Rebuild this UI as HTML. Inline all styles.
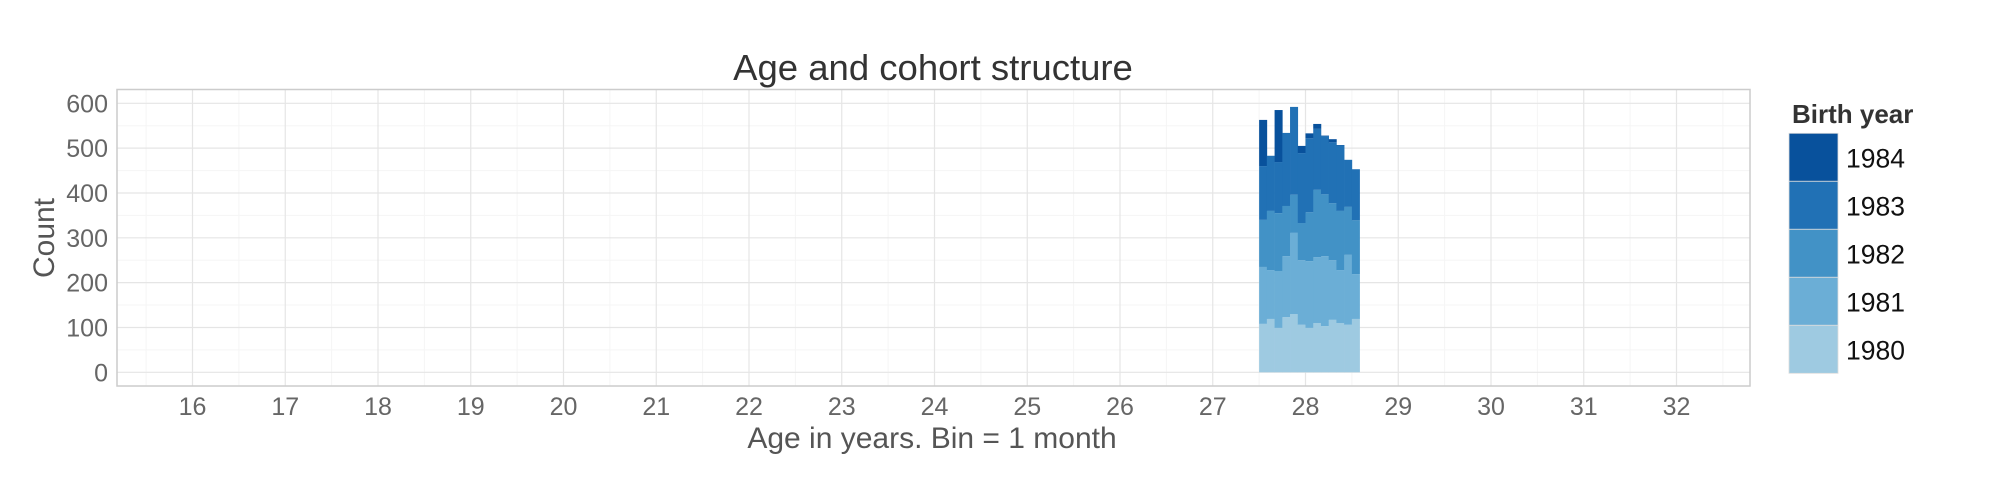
<!DOCTYPE html>
<html><head><meta charset="utf-8"><style>
body{margin:0;background:#fff;}
svg{display:block;font-family:"Liberation Sans",Arial,sans-serif;}
</style></head><body>
<svg id="chart" width="2000" height="480" xmlns="http://www.w3.org/2000/svg">
<text x="933" y="80" text-anchor="middle" font-size="36.5" fill="#333">Age and cohort structure</text>
<rect x="117" y="89.5" width="1633" height="296.5" fill="#fff"/>
<g id="grid"></g>
<g id="bars"></g>
<rect x="117" y="89.5" width="1633" height="296.5" fill="none" stroke="#ccc" stroke-width="1.5"/>
<g id="yticks"></g>
<g id="xticks"></g>
<text x="932" y="448" text-anchor="middle" font-size="30" fill="#555">Age in years. Bin = 1 month</text>
<text transform="translate(54,238) rotate(-90)" text-anchor="middle" font-size="30" fill="#555">Count</text>
<g id="legend">
<text x="1792" y="123" font-size="26" font-weight="bold" fill="#333">Birth year</text>
</g>
</svg>
<script>
const cohorts = ["1980","1981","1982","1983","1984"];
const binStart = 27.5;
const binWidth = 1/12;
const c1980 = [108,119,99,123,130,106,99,110,103,117,110,106,119];
const c1981 = [127,109,127,136,181,144,149,147,156,133,118,156,100];
const c1982 = [105,132,129,112,85,83,109,150,138,127,132,107,120];
const c1983 = [120,123,114,163,196,156,165,136,130,136,146,105,114];
const c1984 = [103,0,116,0,0,16,11,11,1,7,1,0,0];
const colors = ["#9ecae1","#6baed6","#4292c6","#2171b5","#08519c"];
const yTicks = [0,100,200,300,400,500,600];
const xTicks = [16,17,18,19,20,21,22,23,24,25,26,27,28,29,30,31,32];

const NS="http://www.w3.org/2000/svg";
const X0=117,X1=1750,Y0=89.5,Y1=386;
const xs = v => 192.5 + (v-16)*92.75;
const ys = v => 372.3 - v*0.4483;
function mk(tag,attrs,parent){const e=document.createElementNS(NS,tag);for(const k in attrs)e.setAttribute(k,attrs[k]);parent.appendChild(e);return e;}
const grid=document.getElementById('grid');
for(let v=15.5;v<=32.5;v+=1){const l=mk('line',{x1:xs(v),x2:xs(v),y1:Y0,y2:Y1,stroke:'#f5f5f5','stroke-width':1},grid);

}
for(let v=50;v<=650;v+=100){const y=ys(v);if(y<Y0)continue;const l=mk('line',{x1:X0,x2:X1,y1:y,y2:y,stroke:'#f5f5f5','stroke-width':1},grid);

}
xTicks.forEach(v=>{const l=mk('line',{x1:xs(v),x2:xs(v),y1:Y0,y2:Y1,stroke:'#e5e5e5','stroke-width':1.2},grid);


const t=mk('text',{x:xs(v),y:415,'text-anchor':'middle','font-size':25,fill:'#666'},document.getElementById('xticks'));t.textContent=v;

});
yTicks.forEach(v=>{const l=mk('line',{x1:X0,x2:X1,y1:ys(v),y2:ys(v),stroke:'#e5e5e5','stroke-width':1.2},grid);


const t=mk('text',{x:108,y:ys(v)+9,'text-anchor':'end','font-size':25,fill:'#666'},document.getElementById('yticks'));t.textContent=v;

});
const series=[c1980,c1981,c1982,c1983,c1984];
const bars=document.getElementById('bars');
for(let i=0;i<c1980.length;i++){let cum=0;const a=binStart+i*binWidth,b=a+binWidth;
series.forEach((s,k)=>{const v=s[i];if(v>0){const r=mk('rect',{x:xs(a),width:xs(b)-xs(a)+0.3,y:ys(cum+v),height:ys(cum)-ys(cum+v),fill:colors[k]},bars);

}cum+=v;});}
const lg=document.getElementById('legend');
for(let k=4;k>=0;k--){const idx=4-k;const y=133.3+idx*48;
const r=mk('rect',{x:1789,y:y,width:49,height:48,fill:colors[k],stroke:'#ddd','stroke-width':0.8},lg);


const t=mk('text',{x:1846,y:y+34,'font-size':26.5,fill:'#111'},lg);t.textContent=cohorts[k];

}
</script>
</body></html>
